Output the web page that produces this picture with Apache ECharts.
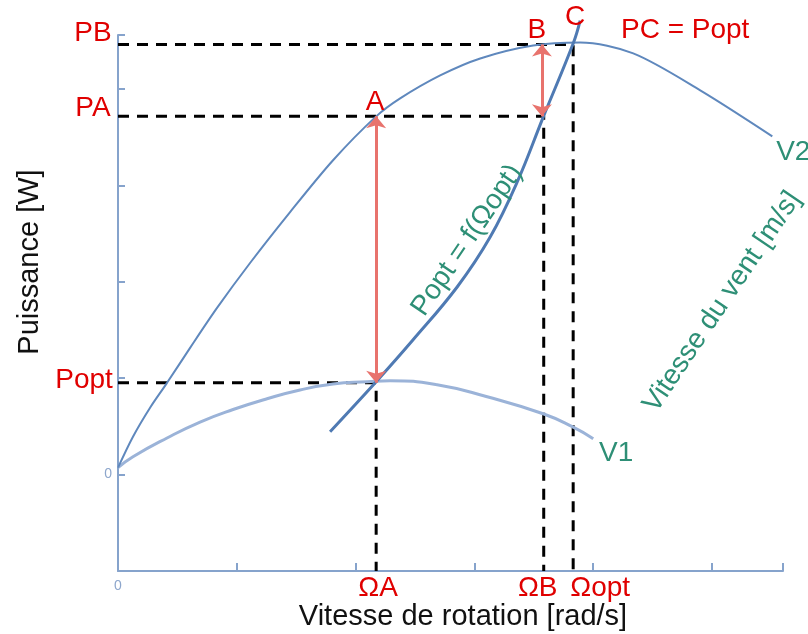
<!DOCTYPE html>
<html>
<head>
<meta charset="utf-8">
<script src="https://cdn.jsdelivr.net/npm/echarts@6/dist/echarts.min.js"></script>
<style>html,body{margin:0;padding:0;background:#fff}#c{width:808px;height:634px}</style>
</head>
<body>
<div id="c"></div>
<script>
// ---- data (axis units: one tick step) ----
const v2X = [0, 0.126, 0.270, 0.413, 0.607, 0.834, 1.112, 1.449, 1.811, 2.174, 2.376, 2.713, 3.050, 3.496, 3.892, 4.339, 4.903, 5.510];
const v2Y = [0.072, 0.393, 0.694, 0.952, 1.315, 1.729, 2.195, 2.723, 3.261, 3.716, 3.903, 4.141, 4.317, 4.451, 4.482, 4.369, 3.986, 3.509];
const v1X = [0, 0.126, 0.413, 0.691, 0.969, 1.255, 1.533, 1.811, 2.098, 2.291, 2.687, 3.109, 3.580, 3.825, 4.002];
const v1Y = [0.072, 0.185, 0.380, 0.545, 0.675, 0.787, 0.878, 0.940, 0.963, 0.973, 0.932, 0.807, 0.631, 0.497, 0.373];
const optX = [1.786, 2.174, 2.485, 2.856, 3.134, 3.361, 3.580, 3.833, 3.892];
const optY = [0.445, 0.963, 1.398, 1.946, 2.464, 3.033, 3.706, 4.472, 4.710];
const omegaA = 2.174, omegaB = 3.585, omegaOpt = 3.833;
const pOpt = 0.952, pA = 3.716, pB = 4.462;
const xTickLabels = ['0'];
const yTickLabels = ['0'];

const zip = (a, b) => a.map((v, i) => [v, b[i]]);
const RED = '#e00000', TEAL = '#2e8f76', AXIS = '#86a3cc';
const FONT = '"Liberation Sans", Arial, sans-serif';
const chart = echarts.init(document.getElementById('c'), null, {renderer: 'canvas'});

function dashed(pts) {
  return {type: 'line', data: pts, symbol: 'none', silent: true, z: 1, clip: false,
    lineStyle: {color: '#000', width: 3, type: [11, 8]}};
}
function ann(x, y, text, color, offset, extra) {
  return {value: [x, y], label: Object.assign({show: true, formatter: text, color: color,
    position: 'inside', offset: offset, fontSize: 28, fontFamily: FONT, opacity: 1}, extra || {})};
}

chart.setOption({
  animation: false,
  grid: {left: 118, right: 25, top: 35, bottom: 63, containLabel: false},
  xAxis: {type: 'value', min: 0, max: 5.6, interval: 1,
    axisLine: {onZero: false, lineStyle: {color: AXIS, width: 2}},
    axisTick: {inside: true, length: 8, lineStyle: {color: AXIS, width: 2}},
    splitLine: {show: false},
    axisLabel: {margin: 8, fontSize: 14, color: '#8da6cc', fontFamily: FONT,
      formatter: v => (v === 0 ? xTickLabels[0] : '')}},
  yAxis: {type: 'value', min: -1, max: 4.56, interval: 1,
    axisLine: {onZero: false, lineStyle: {color: AXIS, width: 2}},
    axisTick: {inside: true, length: 7, lineStyle: {color: AXIS, width: 2}},
    splitLine: {show: false},
    axisLabel: {margin: 6, fontSize: 14, color: '#8da6cc', fontFamily: FONT,
      formatter: v => (v === 0 ? yTickLabels[0] : '')}},
  graphic: [
    {type: 'text', x: 30, y: 262, rotation: Math.PI / 2,
      style: {text: 'Puissance [W]', fill: '#111', font: '29px ' + FONT, align: 'center', verticalAlign: 'middle'}},
    {type: 'text', x: 463, y: 617,
      style: {text: 'Vitesse de rotation [rad/s]', fill: '#111', font: '29px ' + FONT, align: 'center', verticalAlign: 'middle'}}
  ],
  series: [
    dashed([[0, pOpt], [omegaA, pOpt], [omegaA, -1]]),
    dashed([[0, pA], [omegaB, pA], [omegaB, -1]]),
    dashed([[0, pB], [omegaOpt, pB], [omegaOpt, -1]]),
    {type: 'line', name: 'V1', data: zip(v1X, v1Y), smooth: 0.5, symbol: 'none', z: 2,
      lineStyle: {color: '#9bb3d8', width: 3}},
    {type: 'line', name: 'V2', data: zip(v2X, v2Y), smooth: 0.3, symbol: 'none', z: 2,
      lineStyle: {color: '#5f88bd', width: 2}},
    {type: 'line', name: 'Popt', data: zip(optX, optY), smooth: 0.4, symbol: 'none', z: 3, clip: false,
      lineStyle: {color: '#4f7ab3', width: 3}},
    {type: 'line', data: [], z: 4, silent: true,
      markLine: {silent: true, symbol: ['arrow', 'arrow'], symbolSize: [15, 12], animation: false,
        label: {show: false},
        lineStyle: {color: '#e8736d', width: 3, type: 'solid'},
        data: [
          [{coord: [omegaA, pA]}, {coord: [omegaA, pOpt]}],
          [{coord: [omegaB - 0.015, pB]}, {coord: [omegaB - 0.015, pA]}]
        ]}},
    {type: 'scatter', symbolSize: 0, silent: true, z: 5, clip: false,
      itemStyle: {opacity: 1},
      data: [
        ann(0, pB, 'PB', RED, [-25, -11]),
        ann(0, pA, 'PA', RED, [-25, -8]),
        ann(0, pOpt, 'Popt', RED, [-34, -3]),
        ann(omegaA, pA, 'A', RED, [-1, -14]),
        ann(omegaB, pB, 'B', RED, [-7, -14]),
        ann(omegaOpt, pB, 'C', RED, [2, -27]),
        ann(omegaOpt, pB, 'PC = Popt', RED, [112, -14]),
        ann(omegaA, -1, 'ΩA', RED, [2, 17]),
        ann(omegaB, -1, 'ΩB', RED, [-6, 17]),
        ann(omegaOpt, -1, 'Ωopt', RED, [27, 17]),
        ann(v1X[v1X.length - 1], v1Y[v1Y.length - 1], 'V1', TEAL, [23, 15]),
        ann(v2X[v2X.length - 1], v2Y[v2Y.length - 1], 'V2', TEAL, [21, 16]),
        ann(2.94, 2.43, 'Popt = f(Ωopt)', TEAL, [0, 0], {rotate: 56}),
        ann(5.088, 1.791, 'Vitesse du vent [m/s]', TEAL, [0, 0], {rotate: 56})
      ]}
  ]
});
</script>
</body>
</html>
